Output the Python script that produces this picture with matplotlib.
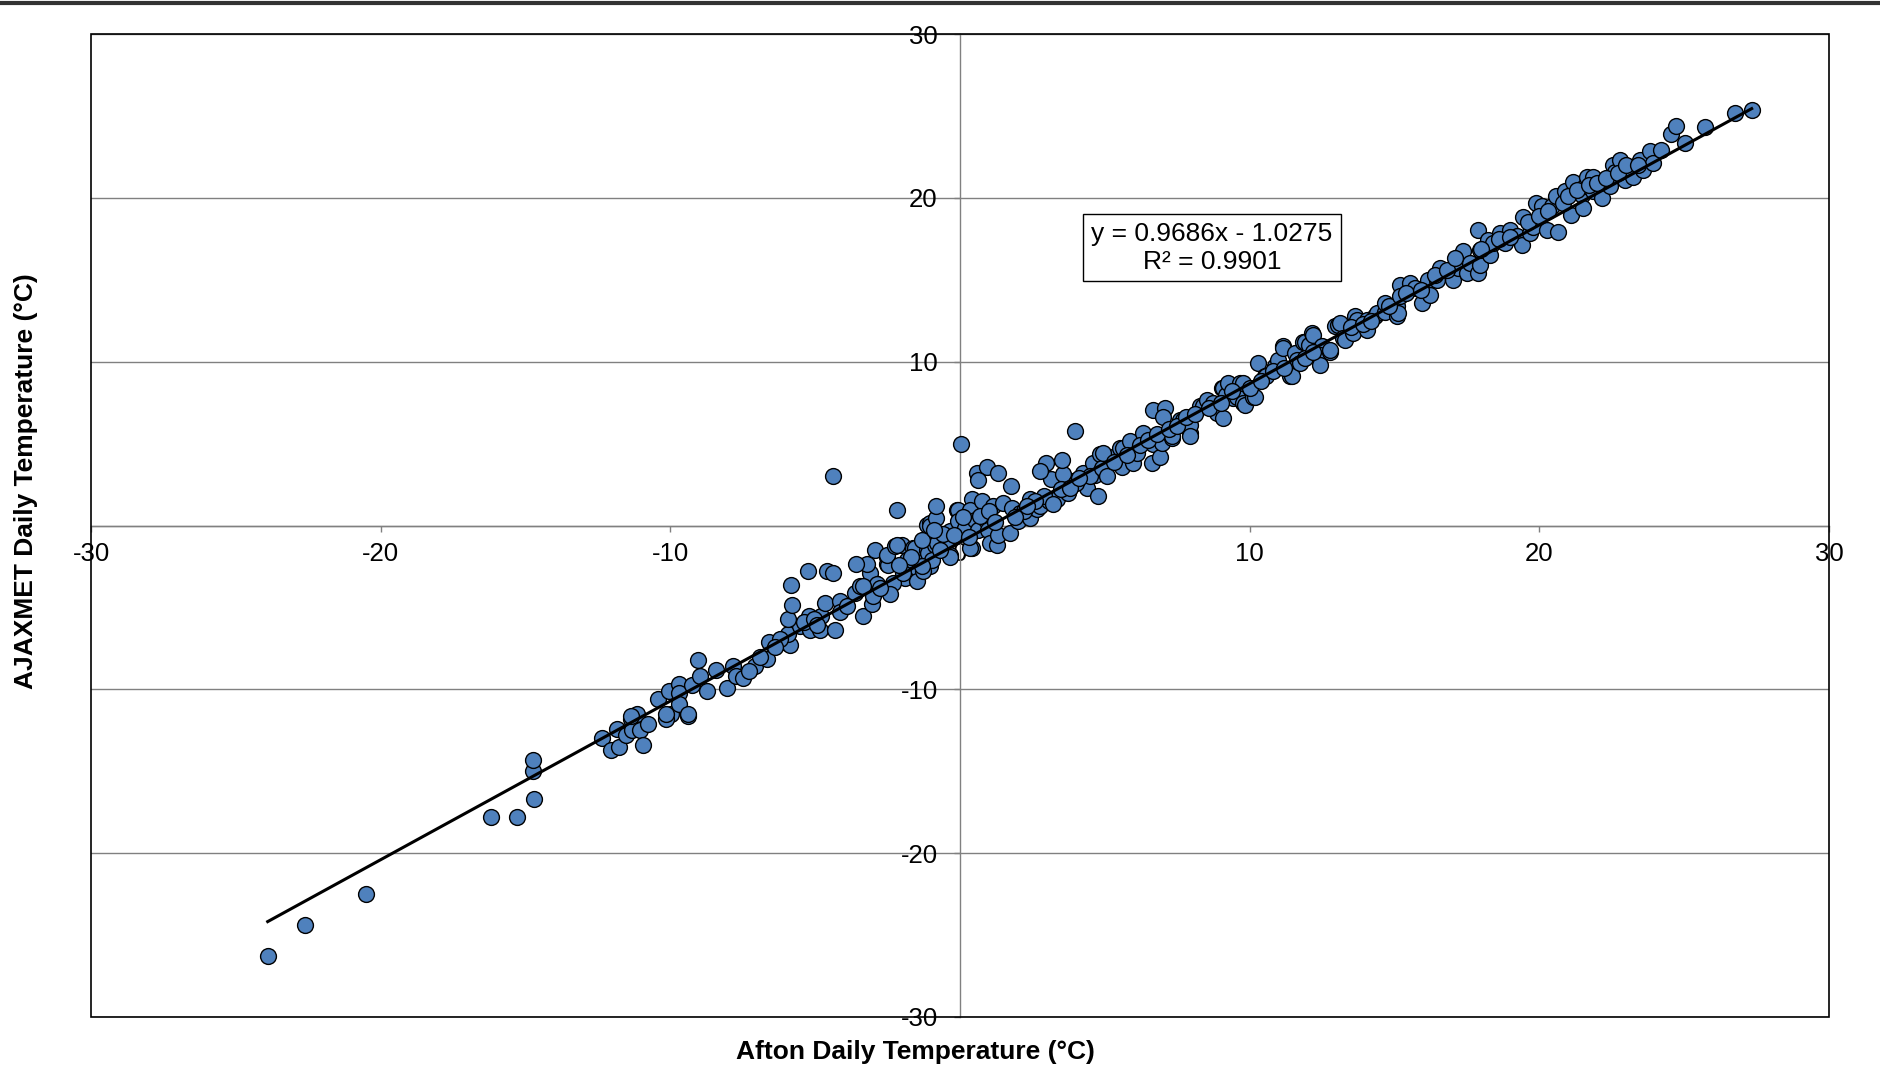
"""
Afton vs AJAXMET daily temperature scatter with linear trendline.
Values read off the reference chart by eye.
"""

import matplotlib
matplotlib.use("Agg")
import matplotlib.pyplot as plt
from matplotlib.patches import Rectangle
from matplotlib.lines import Line2D
import numpy as np

plt.rcParams["font.family"] = ["Liberation Sans", "DejaVu Sans"]
plt.rcParams["axes.unicode_minus"] = False

# ---- data (deg C), one row of x matches one row of y ----
afton_temp = [
    # cold tail
    -23.9, -22.6, -20.5, -16.2, -15.3, -14.7, -14.75, -14.75,
    # -12.5 .. -7.7
    -12.37, -12.05, -11.76, -11.85, -11.54, -11.36, -11.14, -11.32, -11.05, -10.76,
    -10.95, -10.41, -10.03, -9.70, -9.69, -9.98, -10.16, -9.69, -9.38, -9.24,
    -8.97, -9.04, -8.72, -8.42, -8.05, -7.83, -7.72, -11.37, -10.15, -9.40,
    # -7.5 .. -3
    -7.48, -7.08, -6.67, -6.58, -5.98, -5.87, -5.93, -5.52, -5.18, -5.20,
    -4.81, -4.83, -4.31, -5.93, -5.81, -5.83, -5.24, -4.60, -4.37, -4.66,
    -4.14, -4.14, -3.34, -3.05, -2.99, -3.62, -3.45, -2.93, -3.10, -3.22,
    -3.59, -4.40, -5.40, -5.05, -4.95, -6.20, -6.40, -6.90, -7.30, -3.90,
    # -3 .. 2
    -2.93, -2.53, -2.53, -2.47, -2.51, -2.24, -2.01, -2.19, -1.84, -1.29,
    -1.04, -1.44, -1.90, -1.50, -2.30, -2.40, -2.88, -2.76, -3.34, -1.96,
    -1.27, -1.61, -1.55, -1.15, -1.09, -0.86, -0.80, -0.98, -1.32, -0.46,
    -0.44, -0.35, -0.35, -0.35, -1.15, -1.04, -1.04, -0.83, -0.83, -2.19,
    -0.12, -0.06, -0.06, 0.17, 0.17, 0.40, 0.35, 0.52, 0.63, 0.75,
    0.90, 0.98, 1.04, 1.27, 0.40, 0.35, 1.15, 1.50, 1.32, 1.73,
    1.78, 2.01, 2.07, 0.02, 0.58, 0.92, 0.61, 1.30, 1.75,
    -0.60, -0.20, 0.10, 0.30, 0.70, 1.00, 1.20, -0.70, -1.30, -1.70, -2.10, -0.90,
    # 2 .. 5
    2.42, 2.42, 2.65, 2.76, 3.08, 3.34, 3.74, 3.91, 4.37, 4.77,
    4.26, 4.66, 4.60, 4.83, 5.29, 5.52, 3.13, 3.57, 3.51, 2.97,
    2.76, 3.97, 2.20, 2.90, 3.50, 4.00, 4.50, 2.60, 3.20, 1.90,
    2.30, 3.80, 4.10, 4.90,
    # 5 .. 15
    4.95, 5.07, 5.58, 5.64, 5.87, 5.98, 6.10, 6.33, 6.62, 6.67,
    6.90, 6.96, 6.67, 7.07, 7.02, 7.31, 7.31, 7.59, 7.71, 7.94,
    7.94, 7.94, 8.28, 8.40, 8.51, 8.75, 8.80, 8.86, 9.09, 9.03,
    9.09, 9.20, 9.26, 9.43, 9.55, 9.67, 9.78, 9.78, 9.84, 10.12,
    10.18, 10.30, 10.53, 10.58, 10.87, 10.99, 11.14, 11.16, 11.39, 11.45,
    11.56, 11.62, 11.74, 11.85, 11.91, 12.05, 12.14, 12.20, 12.37, 12.48,
    12.43, 12.43, 12.78, 12.78, 12.94, 13.06, 13.12, 13.23, 13.29, 13.58,
    13.63, 13.69, 14.04, 14.04, 14.33, 14.38, 14.67, 14.67, 15.07, 15.07,
    15.13,
    5.30, 5.75, 6.20, 6.50, 6.80, 7.20, 7.50, 7.80, 8.10, 8.60,
    9.00, 9.40, 10.00, 10.40, 10.80, 11.20, 11.90, 12.20, 13.50, 13.90,
    14.20, 14.80,
    # 15 .. 27.3
    15.19, 15.19, 15.53, 15.71, 15.94, 16.17, 16.22, 16.45, 16.57, 17.03,
    17.20, 17.37, 17.49, 17.60, 17.89, 17.95, 17.95, 17.89, 18.24, 18.30,
    18.41, 18.64, 18.81, 18.99, 19.22, 19.39, 19.44, 19.68, 19.79, 19.87,
    20.10, 20.25, 20.45, 20.56, 20.65, 20.88, 21.11, 21.17, 21.46, 21.52,
    21.57, 21.63, 21.86, 21.86, 22.15, 22.44, 22.55, 22.61, 22.78, 22.95,
    23.13, 23.24, 23.47, 23.59, 23.81, 23.93, 24.20, 24.53, 24.73, 25.04,
    25.71, 26.75, 27.33,
    15.40, 15.90, 16.40, 16.80, 17.10, 18.00, 18.60, 19.00, 19.60, 20.00,
    20.30, 20.80, 21.00, 21.30, 21.70, 22.00, 22.30, 22.70, 23.00, 23.40,
]

ajaxmet_temp = [
    # cold tail
    -26.3, -24.4, -22.5, -17.8, -17.8, -16.7, -15.0, -14.3,
    # -12.5 .. -7.7
    -13.0, -13.7, -13.5, -12.4, -12.8, -11.8, -11.5, -12.5, -12.5, -12.1,
    -13.4, -10.6, -10.1, -9.7, -10.2, -11.5, -11.8, -10.9, -11.6, -9.76,
    -9.2, -8.2, -10.1, -8.8, -9.9, -8.6, -9.2, -11.6, -11.5, -11.5,
    # -7.5 .. -3
    -9.3, -8.6, -8.15, -7.1, -7.2, -7.3, -6.6, -6.15, -6.35, -5.5,
    -5.5, -6.4, -6.4, -5.7, -4.88, -3.66, -2.8, -2.8, -2.9, -4.7,
    -4.6, -5.3, -5.5, -4.8, -4.3, -4.1, -3.7, -3.5, -2.9, -2.38,
    -2.38, 3.05, -5.9, -5.7, -6.1, -6.9, -7.4, -8.0, -8.9, -4.9,
    # -3 .. 2
    -1.48, -1.90, -2.38, -2.40, -1.79, -1.28, -1.18, -1.22, -2.10, -2.10,
    -2.50, -2.90, -3.20, -3.40, -3.50, -4.20, -3.60, -3.80, -3.70, -2.90,
    -2.80, -1.38, -1.38, -1.48, -1.68, -1.18, -1.07, -2.10, -2.50, -0.96,
    -0.87, -1.79, -1.90, -0.35, 0.04, 0.16, 0.00, 0.47, 1.22, 0.93,
    0.93, 0.96, 0.26, -0.26, -0.16, 1.59, 0.96, 0.35, -0.26, 1.48,
    0.35, -0.26, -1.07, -1.18, -1.38, -1.38, 1.18, 1.38, -0.57, -0.46,
    1.08, 0.26, 0.77, 5.00, 3.20, 3.60, 2.80, 3.20, 2.40,
    -0.50, -0.60, 0.50, -0.70, 0.60, 0.90, 0.20, -1.50, -0.90, -1.90, -2.40, -0.30,
    # 2 .. 5
    1.59, 0.47, 1.0, 1.18, 1.48, 1.59, 2.0, 2.7, 2.3, 1.79,
    3.2, 3.1, 3.8, 4.37, 4.2, 4.7, 2.84, 3.17, 3.98, 3.8,
    3.3, 5.75, 0.9, 1.8, 2.2, 2.6, 3.0, 1.5, 1.3, 0.5,
    1.2, 2.3, 2.9, 3.5,
    # 5 .. 15
    4.4, 3.0, 3.6, 4.72, 5.13, 3.8, 4.4, 5.64, 3.8, 5.0,
    4.2, 5.03, 7.06, 7.16, 6.65, 5.33, 5.45, 6.45, 6.45, 5.64,
    6.16, 5.45, 7.27, 7.27, 7.68, 7.48, 7.06, 6.86, 6.55, 8.38,
    8.38, 7.99, 8.69, 7.79, 7.87, 8.69, 7.47, 8.69, 7.38, 7.87,
    7.87, 9.9, 9.1, 9.1, 9.71, 10.11, 10.93, 10.82, 9.1, 9.1,
    10.52, 10.11, 9.91, 11.23, 11.23, 11.04, 11.74, 11.64, 10.3, 10.93,
    10.43, 9.82, 10.6, 10.72, 12.15, 12.26, 12.35, 11.44, 11.35, 11.74,
    12.76, 12.56, 11.95, 12.56, 12.76, 12.97, 13.06, 13.58, 12.76, 13.37,
    12.96,
    3.9, 4.3, 4.9, 5.2, 5.6, 5.9, 6.1, 6.6, 6.8, 7.2,
    7.5, 8.2, 8.4, 8.8, 9.4, 9.6, 10.2, 10.6, 12.1, 12.3,
    12.5, 13.4,
    # 15 .. 27.3
    14.69, 13.98, 14.79, 14.49, 13.57, 14.99, 14.08, 14.99, 15.71, 14.99,
    15.71, 16.73, 15.4, 16.02, 15.4, 15.91, 16.82, 18.04, 17.44, 16.52,
    17.23, 17.84, 17.23, 18.04, 17.64, 17.13, 18.86, 17.84, 18.25, 19.68,
    19.48, 18.04, 19.48, 20.09, 17.94, 20.39, 18.97, 20.99, 20.19, 19.38,
    20.7, 21.3, 21.3, 20.39, 19.98, 20.7, 22.0, 21.6, 22.3, 21.1,
    21.8, 21.3, 22.3, 21.7, 22.83, 22.1, 22.94, 23.9, 24.36, 23.34,
    24.3, 25.18, 25.34,
    14.2, 14.4, 15.3, 15.6, 16.3, 16.9, 17.5, 17.6, 18.5, 18.9,
    19.2, 19.7, 20.1, 20.5, 20.8, 20.9, 21.2, 21.5, 22.0, 22.0,
]

# trendline as reported on the chart
slope = 0.9686
intercept = -1.0275
r_squared = 0.9901

axis_ticks = [-30, -20, -10, 0, 10, 20, 30]

x = np.array(afton_temp)
y = np.array(ajaxmet_temp)

fig = plt.figure(figsize=(18.81, 10.69), dpi=100)
ax = fig.add_axes([91 / 1881, 52 / 1069, 1738 / 1881, 983 / 1069])
ax.set_xlim(-30, 30)
ax.set_ylim(-30, 30)
ax.set_axisbelow(True)
ax.grid(axis="y", color="#808080", linewidth=1.0)

# axes cross at zero, outer frame drawn separately
for side in ["top", "right"]:
    ax.spines[side].set_visible(False)
for side in ["left", "bottom"]:
    ax.spines[side].set_position(("data", 0))
    ax.spines[side].set_color("#808080")
    ax.spines[side].set_linewidth(1.0)
ax.add_patch(Rectangle((0, 0), 1, 1, transform=ax.transAxes, fill=False,
                       edgecolor="black", linewidth=1.2, clip_on=False, zorder=3))

ax.set_xticks(axis_ticks)
ax.set_yticks(axis_ticks)
ax.tick_params(direction="out", length=4, width=1, color="#808080", labelsize=18.5)
ax.tick_params(axis="x", pad=8)
ax.tick_params(axis="y", pad=12)

ax.scatter(x, y, s=130, c="#4F81BD", edgecolors="black", linewidths=1.0, zorder=4)

trend_x = np.array([x.min(), x.max()])
ax.plot(trend_x, slope * trend_x + intercept, color="black", linewidth=2.2, zorder=5)

ax.text(8.7, 16.96, f"y = {slope}x - {abs(intercept)}\nR² = {r_squared}",
        ha="center", va="center", fontsize=19, zorder=6,
        bbox=dict(boxstyle="square,pad=0.3", facecolor="white", edgecolor="black", linewidth=1.0))

fig.text(915 / 1881, 1 - 1052 / 1069, "Afton Daily Temperature (°C)",
         ha="center", va="center", fontsize=19, fontweight="bold")
fig.text(26 / 1881, 1 - 481 / 1069, "AJAXMET Daily Temperature (°C)",
         ha="center", va="center", rotation=90, fontsize=19, fontweight="bold")

# page rule along the very top
fig.add_artist(Line2D([0, 1], [1 - 3 / 1069] * 2, transform=fig.transFigure,
                      color="#333333", linewidth=3))

fig.savefig("out.png", dpi=100)
